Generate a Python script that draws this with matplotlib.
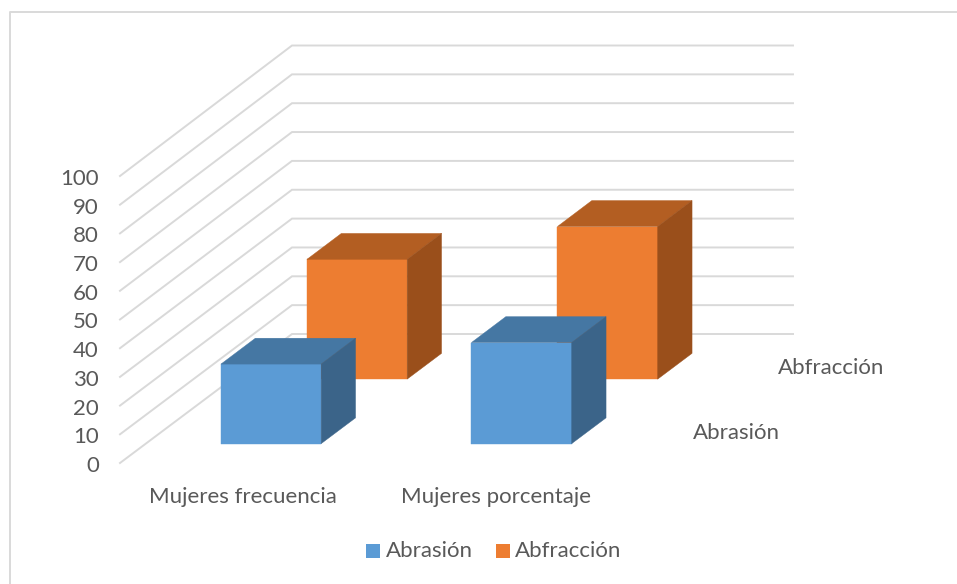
import matplotlib
matplotlib.use("Agg")
import matplotlib.pyplot as plt
from matplotlib.patches import Polygon, Rectangle

# --- data ---
CATEGORIES = ["Mujeres frecuencia", "Mujeres porcentaje"]
SERIES = ["Abrasión", "Abfracción"]
ABRASION = [27.7, 35.2]
ABFRACCION = [41.6, 53]
TICKS = [0, 10, 20, 30, 40, 50, 60, 70, 80, 90, 100]

# --- oblique projection of the 3D chart, result in image pixels ---
W, H = 957, 584
X0, Y0 = 120, 463      # front-left corner of the floor
PX_FRONT = 2.87        # wall height at the front, slight perspective
PX_BACK = 2.885        # wall height at the back
FLOOR_W = 501          # width of the box
DEPTH_X, DEPTH_Y = 172, 129   # shift from front to back wall
GAP = 0.3              # gap on both sides of a bar, as share of a slot


def proj(u, d, v):
    # u = across categories (0-n), d = across series (0-n), v = value
    f = d / len(SERIES)
    x = X0 + u / len(CATEGORIES) * FLOOR_W + f * DEPTH_X
    y = Y0 - f * DEPTH_Y - v * (PX_FRONT + f * (PX_BACK - PX_FRONT))
    return x, y


def draw_bar(ax, cat, ser, value, front, top, side):
    u0, u1 = cat + GAP, cat + 1 - GAP
    d0, d1 = ser + GAP, ser + 1 - GAP
    ax.add_patch(Polygon([proj(u0, d0, 0), proj(u1, d0, 0), proj(u1, d0, value), proj(u0, d0, value)],
                         fc=front, ec=front, lw=0.3, zorder=3))
    ax.add_patch(Polygon([proj(u0, d0, value), proj(u1, d0, value), proj(u1, d1, value), proj(u0, d1, value)],
                         fc=top, ec=top, lw=0.3, zorder=3))
    ax.add_patch(Polygon([proj(u1, d0, 0), proj(u1, d1, 0), proj(u1, d1, value), proj(u1, d0, value)],
                         fc=side, ec=side, lw=0.3, zorder=3))


plt.rcParams["font.family"] = ["Lato", "DejaVu Sans"]
TEXT = "#595959"
GRID = "#d9d9d9"
FS = 16

fig = plt.figure(figsize=(W / 100, H / 100), dpi=100)
ax = fig.add_axes([0, 0, 1, 1])
ax.set_xlim(0, W)
ax.set_ylim(H, 0)
ax.axis("off")

# chart frame (only top and left are inside the crop)
ax.plot([10, 10, W], [H, 11.5, 11.5], color=GRID, lw=1.4)

# gridlines: side wall then back wall
for t in TICKS:
    pts = [proj(0, 0, t), proj(0, len(SERIES), t), proj(len(CATEGORIES), len(SERIES), t)]
    ax.plot([p[0] for p in pts], [p[1] for p in pts], color=GRID, lw=1.4, solid_joinstyle="miter")
    ax.text(X0 - 21, proj(0, 0, t)[1] + 3, str(t), ha="right", va="center", fontsize=FS, color=TEXT)

# back series first so the front one covers it
draw_bar(ax, 0, 1, ABFRACCION[0], "#ed7d31", "#b35e22", "#9a4f1b")
draw_bar(ax, 1, 1, ABFRACCION[1], "#ed7d31", "#b35e22", "#9a4f1b")
draw_bar(ax, 0, 0, ABRASION[0], "#5b9bd5", "#4577a3", "#3b6489")
draw_bar(ax, 1, 0, ABRASION[1], "#5b9bd5", "#4577a3", "#3b6489")

# category labels
ax.text(243, 497, CATEGORIES[0], ha="center", va="center", fontsize=FS, color=TEXT)
ax.text(496, 497, CATEGORIES[1], ha="center", va="center", fontsize=FS, color=TEXT)

# series labels on the depth axis
ax.text(736, 433, SERIES[0], ha="center", va="center", fontsize=FS, color=TEXT)
ax.text(831, 368, SERIES[1], ha="center", va="center", fontsize=FS, color=TEXT)

# legend
ax.add_patch(Rectangle((366, 544), 14, 14, fc="#5b9bd5", ec="none"))
ax.text(386, 551, SERIES[0], ha="left", va="center", fontsize=FS, color=TEXT)
ax.add_patch(Rectangle((496, 544), 14, 14, fc="#ed7d31", ec="none"))
ax.text(515, 551, SERIES[1], ha="left", va="center", fontsize=FS, color=TEXT)

fig.savefig("out.png", dpi=100)
